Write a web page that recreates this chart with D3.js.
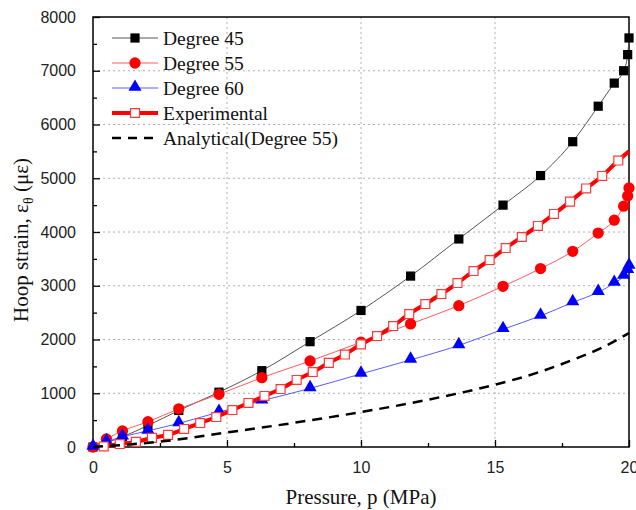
<!DOCTYPE html>
<html>
<head>
<meta charset="utf-8">
<script src="https://cdn.jsdelivr.net/npm/d3@7"></script>
<style>
  body { margin: 0; background: #fff; }
  svg { display: block; }
</style>
</head>
<body>
<div id="chart"></div>
<script>
// data
var simPressure = [0, 0.5, 1.1, 2.05, 3.2, 4.7, 6.3, 8.1, 10, 11.85, 13.65, 15.3, 16.7, 17.9, 18.85, 19.45, 19.8, 19.95, 20];
var deg45 = [0, 80, 190, 400, 680, 1020, 1420, 1960, 2540, 3180, 3870, 4500, 5050, 5680, 6340, 6770, 7000, 7300, 7610];
var deg55 = [0, 150, 300, 470, 710, 980, 1290, 1600, 1950, 2290, 2630, 2990, 3320, 3640, 3980, 4220, 4480, 4670, 4820];
var deg60 = [0, 100, 190, 300, 440, 650, 860, 1090, 1360, 1620, 1890, 2190, 2440, 2690, 2880, 3050, 3180, 3290, 3370];

var expPressure = [0.4, 1.0, 1.6, 2.2, 2.8, 3.4, 4.0, 4.6, 5.2, 5.8, 6.4, 7.0, 7.6, 8.2, 8.8, 9.4, 10.0,
                   10.6, 11.2, 11.8, 12.4, 13.0, 13.6, 14.2, 14.8, 15.4, 16.0, 16.6, 17.2, 17.8, 18.4, 19.0, 19.6, 20];
var expStrain = [10, 55, 95, 170, 225, 335, 446, 558, 688, 819, 949, 1079, 1247, 1395, 1565, 1720, 1910,
                 2065, 2251, 2474, 2660, 2846, 3051, 3274, 3479, 3702, 3907, 4112, 4335, 4565, 4810, 5042, 5330, 5500];

var anaPressure = [0, 2.5, 5, 7.5, 10, 12.5, 15, 16.5, 18, 19, 20];
var anaStrain = [0, 100, 270, 450, 650, 880, 1160, 1370, 1640, 1850, 2120];

var xTicks = [0, 5, 10, 15, 20];
var yTicks = [0, 1000, 2000, 3000, 4000, 5000, 6000, 7000, 8000];

var W = 636, H = 510;
var margin = {top: 17, right: 7, bottom: 63, left: 93};
var w = W - margin.left - margin.right,
    h = H - margin.top - margin.bottom;

var svg = d3.select("#chart").append("svg")
  .attr("width", W)
  .attr("height", H);

var g = svg.append("g")
  .attr("transform", `translate(${margin.left},${margin.top})`);

var x = d3.scaleLinear().domain([0, 20]).range([0, w]);
var y = d3.scaleLinear().domain([0, 8000]).range([h, 0]);

// grid
g.selectAll(".gx").data(xTicks.slice(1, -1)).enter().append("line")
  .attr("x1", d => x(d)).attr("x2", d => x(d))
  .attr("y1", 0).attr("y2", h)
  .attr("stroke", "#b0b0b0").attr("stroke-dasharray", "2,3");
g.selectAll(".gy").data(yTicks.slice(1, -1)).enter().append("line")
  .attr("x1", 0).attr("x2", w)
  .attr("y1", d => y(d)).attr("y2", d => y(d))
  .attr("stroke", "#b0b0b0").attr("stroke-dasharray", "2,3");

// axes, ticks inside
var xAxis = g.append("g")
  .attr("transform", "translate(0," + h + ")")
  .call(d3.axisBottom(x).tickValues(xTicks).tickSize(-7).tickPadding(15));
var xMinor = g.append("g")
  .attr("transform", "translate(0," + h + ")")
  .call(d3.axisBottom(x).tickValues([2.5, 7.5, 12.5, 17.5]).tickSize(-4).tickFormat(""));
var yAxis = g.append("g")
  .call(d3.axisLeft(y).tickValues(yTicks).tickSize(-7).tickPadding(17).tickFormat(d3.format("d")));
var yMinor = g.append("g")
  .call(d3.axisLeft(y).tickValues([500, 1500, 2500, 3500, 4500, 5500, 6500, 7500]).tickSize(-4).tickFormat(""));

[xAxis, xMinor, yAxis, yMinor].forEach(function(a) {
  a.select(".domain").remove();
  a.selectAll("line").attr("stroke", "#000").attr("stroke-width", 1.3);
  a.selectAll("text")
    .style("font-family", "'Liberation Sans', Arial, sans-serif")
    .style("font-size", "16px")
    .attr("fill", "#222");
});

// frame
g.append("rect")
  .attr("x", 0).attr("y", 0).attr("width", w).attr("height", h)
  .attr("fill", "none").attr("stroke", "#000").attr("stroke-width", 1.5);

var line = d3.line().curve(d3.curveMonotoneX)
  .x(d => x(d[0])).y(d => y(d[1]));

function pairs(px, py) { return px.map((p, i) => [p, py[i]]); }

var s45 = pairs(simPressure, deg45);
var s55 = pairs(simPressure, deg55);
var s60 = pairs(simPressure, deg60);
var sExp = pairs(expPressure, expStrain);
var sAna = pairs(anaPressure, anaStrain);

var sq = d3.symbol().type(d3.symbolSquare).size(85);
var circ = d3.symbol().type(d3.symbolCircle).size(100);
var tri = d3.symbol().type(d3.symbolTriangle).size(75);
var osq = d3.symbol().type(d3.symbolSquare).size(80);

// Degree 45
g.append("path").datum(s45).attr("d", line)
  .attr("fill", "none").attr("stroke", "#555").attr("stroke-width", 1);
g.selectAll(".m45").data(s45).enter().append("path")
  .attr("d", sq).attr("transform", d => `translate(${x(d[0])},${y(d[1])})`)
  .attr("fill", "#000");

// Degree 55
g.append("path").datum(s55).attr("d", line)
  .attr("fill", "none").attr("stroke", "#ff5a5a").attr("stroke-width", 1);
g.selectAll(".m55").data(s55).enter().append("path")
  .attr("d", circ).attr("transform", d => `translate(${x(d[0])},${y(d[1])})`)
  .attr("fill", "#ff0000");

// Degree 60
g.append("path").datum(s60).attr("d", line)
  .attr("fill", "none").attr("stroke", "#5a5aff").attr("stroke-width", 1);
g.selectAll(".m60").data(s60).enter().append("path")
  .attr("d", tri).attr("transform", d => `translate(${x(d[0])},${y(d[1]) - 1})`)
  .attr("fill", "#0000ff");

// Experimental
g.append("path").datum(sExp).attr("d", line)
  .attr("fill", "none").attr("stroke", "#ff0000").attr("stroke-width", 4);
g.selectAll(".mexp").data(sExp.slice(0, -1)).enter().append("path")
  .attr("d", osq).attr("transform", d => `translate(${x(d[0])},${y(d[1])})`)
  .attr("fill", "#fff").attr("stroke", "#ff3a3a").attr("stroke-width", 1.2);

// Analytical
g.append("path").datum(sAna).attr("d", line)
  .attr("fill", "none").attr("stroke", "#000").attr("stroke-width", 2.5)
  .attr("stroke-dasharray", "10,7");

// legend
var legend = [
  {name: "Degree 45", color: "#555", mark: sq, fill: "#000", stroke: "none", width: 1, dash: null},
  {name: "Degree 55", color: "#ff5a5a", mark: circ, fill: "#ff0000", stroke: "none", width: 1, dash: null},
  {name: "Degree 60", color: "#5a5aff", mark: tri, fill: "#0000ff", stroke: "none", width: 1, dash: null},
  {name: "Experimental", color: "#ff0000", mark: osq, fill: "#fff", stroke: "#ff3a3a", width: 4, dash: null},
  {name: "Analytical(Degree 55)", color: "#000", mark: null, fill: null, stroke: null, width: 2.5, dash: "9,7"}
];
var lg = svg.append("g");
legend.forEach(function(d, i) {
  var ly = 38 + i * 25;
  lg.append("line")
    .attr("x1", 112).attr("x2", 158).attr("y1", ly).attr("y2", ly)
    .attr("stroke", d.color).attr("stroke-width", d.width)
    .attr("stroke-dasharray", d.dash);
  if (d.mark) {
    lg.append("path").attr("d", d.mark)
      .attr("transform", `translate(135,${i == 2 ? ly - 1 : ly})`)
      .attr("fill", d.fill).attr("stroke", d.stroke).attr("stroke-width", 1.2);
  }
  lg.append("text")
    .attr("x", 163).attr("y", ly + 6.5)
    .style("font-family", "'Liberation Serif', 'Times New Roman', serif")
    .style("font-size", "19.5px")
    .attr("fill", "#111")
    .text(d.name);
});

// axis titles
svg.append("text")
  .attr("x", margin.left + w / 2).attr("y", 504)
  .attr("text-anchor", "middle")
  .style("font-family", "'Liberation Serif', 'Times New Roman', serif")
  .style("font-size", "21px")
  .attr("fill", "#111")
  .text("Pressure, p (MPa)");

var yl = svg.append("text")
  .attr("transform", "translate(28,240) rotate(-90)")
  .attr("text-anchor", "middle")
  .style("font-family", "'Liberation Serif', 'Times New Roman', serif")
  .style("font-size", "21px")
  .attr("fill", "#111");
yl.append("tspan").text("Hoop strain, ε");
yl.append("tspan").attr("dy", 5).style("font-size", "14px").text("θ");
yl.append("tspan").attr("dy", -5).text(" (με)");
</script>
</body>
</html>
